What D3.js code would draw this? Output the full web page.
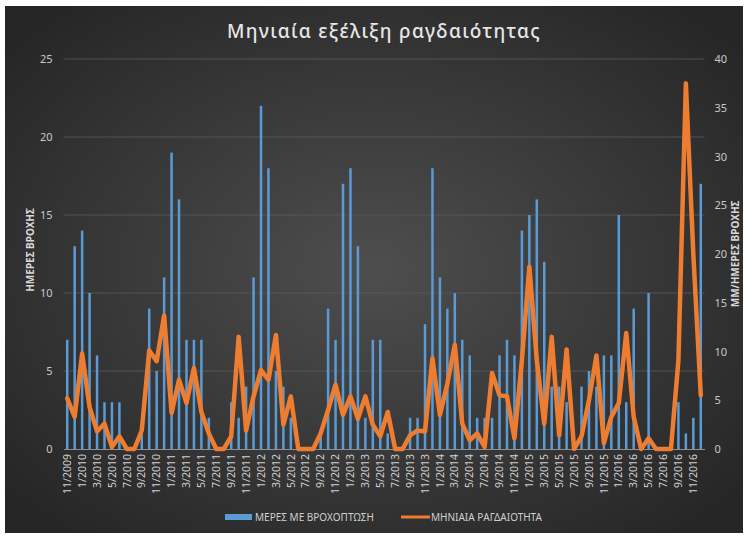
<!DOCTYPE html>
<html><head><meta charset="utf-8">
<script src="https://cdn.jsdelivr.net/npm/d3@7"></script>
<style>body{margin:0;background:#fff;} svg{display:block}</style>
</head><body><svg id="c" width="752" height="536"></svg>
<script>
const months = ["11/2009","12/2009",
"1/2010","2/2010","3/2010","4/2010","5/2010","6/2010","7/2010","8/2010","9/2010","10/2010","11/2010","12/2010",
"1/2011","2/2011","3/2011","4/2011","5/2011","6/2011","7/2011","8/2011","9/2011","10/2011","11/2011","12/2011",
"1/2012","2/2012","3/2012","4/2012","5/2012","6/2012","7/2012","8/2012","9/2012","10/2012","11/2012","12/2012",
"1/2013","2/2013","3/2013","4/2013","5/2013","6/2013","7/2013","8/2013","9/2013","10/2013","11/2013","12/2013",
"1/2014","2/2014","3/2014","4/2014","5/2014","6/2014","7/2014","8/2014","9/2014","10/2014","11/2014","12/2014",
"1/2015","2/2015","3/2015","4/2015","5/2015","6/2015","7/2015","8/2015","9/2015","10/2015","11/2015","12/2015",
"1/2016","2/2016","3/2016","4/2016","5/2016","6/2016","7/2016","8/2016","9/2016","10/2016","11/2016","12/2016"];
const tickMonths = ["11/2009","1/2010","3/2010","5/2010","7/2010","9/2010","11/2010",
"1/2011","3/2011","5/2011","7/2011","9/2011","11/2011",
"1/2012","3/2012","5/2012","7/2012","9/2012","11/2012",
"1/2013","3/2013","5/2013","7/2013","9/2013","11/2013",
"1/2014","3/2014","5/2014","7/2014","9/2014","11/2014",
"1/2015","3/2015","5/2015","7/2015","9/2015","11/2015",
"1/2016","3/2016","5/2016","7/2016","9/2016","11/2016"];
const rainDays = [7,13,14,10,6,3,3,3,0,0,1,9,5,11,19,16,7,7,7,2,0,0,3,2,4,11,22,18,5,4,2,0,0,0,1,9,7,17,18,13,2,7,7,1,0,0,2,2,8,18,11,9,10,7,6,2,2,2,6,7,6,14,15,16,12,4,4,3,0,4,5,4,6,6,15,3,9,0,10,0,0,0,3,1,2,17];
const intensity = [5.2,3.3,9.8,4.3,1.8,2.6,0.2,1.3,0,0,1.9,10.1,9.0,13.7,3.7,7.1,4.7,8.3,3.8,1.6,0,0,1.3,11.5,1.9,5.4,8.1,7.1,11.7,2.5,5.4,0,0,0,1.6,4.0,6.6,3.5,5.4,3.1,5.4,2.5,1.3,3.8,0,0,1.4,1.9,1.8,9.3,3.5,6.7,10.7,2.6,0.9,1.6,0.2,7.8,5.5,5.4,1.1,9.1,18.7,9.1,2.6,11.5,1.4,10.2,0,1.3,5.0,9.6,0.6,3.3,4.7,11.9,3.3,0,1.1,0,0,0,9.1,37.5,20,5.5];
const leftTicks = [0,5,10,15,20,25];
const rightTicks = [0,5,10,15,20,25,30,35,40];
const title = "Μηνιαία εξέλιξη ραγδαιότητας";
const leftTitle = "ΗΜΕΡΕΣ ΒΡΟΧΗΣ";
const rightTitle = "ΜΜ/ΗΜΕΡΕΣ ΒΡΟΧΗΣ";
const seriesNames = ["ΜΕΡΕΣ ΜΕ ΒΡΟΧΟΠΤΩΣΗ","ΜΗΝΙΑΙΑ ΡΑΓΔΑΙΟΤΗΤΑ"];

const svg = d3.select("#c");
const font = "'Noto Sans', 'Open Sans', sans-serif";
const defs = svg.append("defs");
const rg = defs.append("radialGradient").attr("id","bg").attr("cx","50%").attr("cy","50%").attr("r","65%");
rg.append("stop").attr("offset","0%").attr("stop-color","#4e4e4e");
rg.append("stop").attr("offset","100%").attr("stop-color","#262626");
svg.append("rect").attr("x",5).attr("y",6).attr("width",738).attr("height",527).attr("fill","url(#bg)");

const L = 63.5, R = 704.5, T = 59, B = 449;
const x = d3.scaleBand().domain(months).range([L,R]);
const yL = d3.scaleLinear().domain([0,25]).range([B,T]);
const yR = d3.scaleLinear().domain([0,40]).range([B,T]);
const cx = m => x(m) + x.bandwidth()/2;

// gridlines
svg.append("g").selectAll("line").data(leftTicks.filter(d=>d>0)).join("line")
  .attr("x1",L).attr("x2",R).attr("y1",d=>yL(d)).attr("y2",d=>yL(d))
  .attr("stroke","#5c5c5c").attr("stroke-width",0.8);

// title
svg.append("text").attr("x",384).attr("y",38).attr("text-anchor","middle")
  .attr("font-family",font).attr("font-size",19).attr("font-weight",500).attr("letter-spacing",1.3)
  .attr("fill","#e6e6e6").text(title);

// bars
svg.append("g").selectAll("rect").data(months).join("rect")
  .attr("x",(m)=>cx(m)-1.25).attr("width",2.5)
  .attr("y",(m,i)=>yL(rainDays[i])).attr("height",(m,i)=>B-yL(rainDays[i]))
  .attr("fill","#5b9bd5");

// bottom axis
const gx = svg.append("g").attr("transform",`translate(0,${B})`)
  .call(d3.axisBottom(x).tickValues(tickMonths).tickSize(0).tickSizeOuter(0));
gx.select(".domain").attr("stroke","#8f8f8f").attr("stroke-width",1);
gx.selectAll("text").attr("transform","rotate(-90)").attr("text-anchor","end")
  .attr("x",-5).attr("y",0).attr("dy","0.35em")
  .attr("font-family",font).attr("font-size",10.5).attr("fill","#d0d0d0");

// line
const line = d3.line().x((d,i)=>cx(months[i])).y(d=>yR(d));
svg.append("path").datum(intensity).attr("d",line).attr("fill","none")
  .attr("stroke","#ed7d31").attr("stroke-width",4.5).attr("stroke-linejoin","round").attr("stroke-linecap","round");

// left axis
const gl = svg.append("g").attr("transform",`translate(${L},0)`)
  .call(d3.axisLeft(yL).tickValues(leftTicks).tickSize(0).tickPadding(11));
gl.select(".domain").remove();
gl.selectAll("text").attr("font-family",font).attr("font-size",11).attr("fill","#c8c8c8");

// right axis
const gr = svg.append("g").attr("transform",`translate(${R},0)`)
  .call(d3.axisRight(yR).tickValues(rightTicks).tickSize(0).tickPadding(10));
gr.select(".domain").remove();
gr.selectAll("text").attr("font-family",font).attr("font-size",11).attr("fill","#c8c8c8");

// axis titles
svg.append("text").attr("transform","translate(34,250) rotate(-90)").attr("text-anchor","middle")
  .attr("font-family",font).attr("font-size",10).attr("font-weight","bold").attr("fill","#d8d8d8").text(leftTitle);
svg.append("text").attr("transform","translate(739,254) rotate(-90)").attr("text-anchor","middle")
  .attr("font-family",font).attr("font-size",10).attr("font-weight","bold").attr("fill","#d8d8d8").text(rightTitle);

// legend
svg.append("rect").attr("x",225).attr("y",514).attr("width",27).attr("height",6).attr("fill","#5b9bd5");
svg.append("text").attr("x",255).attr("y",521).attr("font-family",font).attr("font-size",10).attr("fill","#cfcfcf").text(seriesNames[0]);
svg.append("line").attr("x1",401).attr("x2",430).attr("y1",517).attr("y2",517).attr("stroke","#ed7d31").attr("stroke-width",3);
svg.append("text").attr("x",431).attr("y",521).attr("font-family",font).attr("font-size",10).attr("fill","#cfcfcf").text(seriesNames[1]);
</script></body></html>
